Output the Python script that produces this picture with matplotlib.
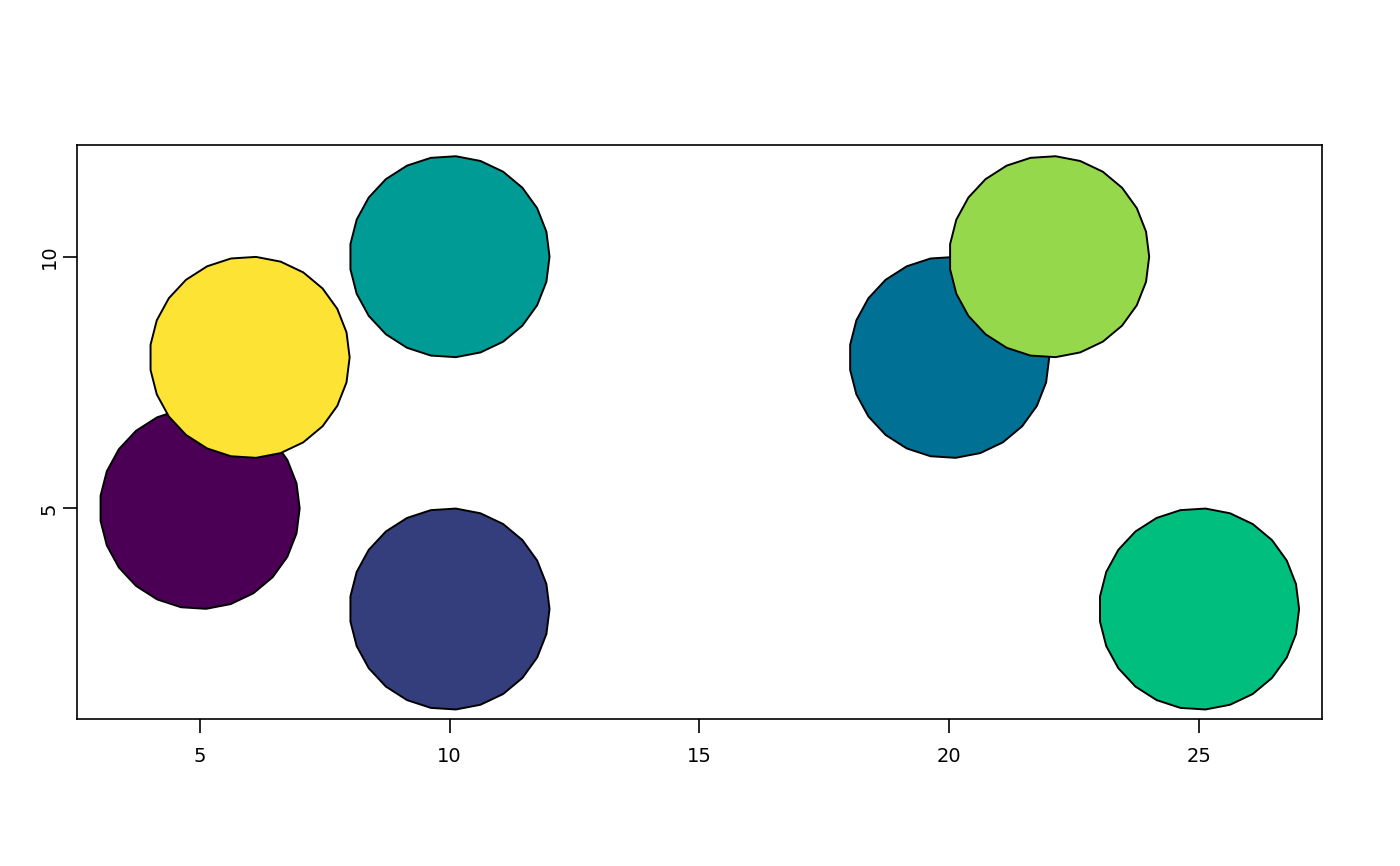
import numpy as np
import matplotlib.pyplot as plt
from matplotlib.patches import Polygon

# circle centres, radius and fill colours (hcl viridis)
xs = [5, 10, 20, 10, 25, 22, 6]
ys = [5, 3, 8, 10, 3, 10, 8]
radius = [2, 2, 2, 2, 2, 2, 2]
colors = ["#4B0055", "#353E7C", "#007094", "#009B95", "#00BE7D", "#96D84B", "#FDE333"]
x_ticks = [5, 10, 15, 20, 25]
y_ticks = [5, 10]

n_vert = 25

fig = plt.figure(figsize=(14, 8.66), dpi=100)
ax = fig.add_axes([0.055, 0.1697, 0.889, 0.6629])

ang = np.arange(n_vert) * 2 * np.pi / n_vert
for x, y, r, c in zip(xs, ys, radius, colors):
    pts = np.column_stack([x + r * np.cos(ang), y + r * np.sin(ang)])
    ax.add_patch(Polygon(pts, closed=True, facecolor=c, edgecolor="black", linewidth=1.4))

ax.set_xlim(2.544, 27.45)
ax.set_ylim(0.814, 12.22)
ax.set_xticks(x_ticks)
ax.set_yticks(y_ticks)
ax.set_yticklabels([str(v) for v in y_ticks], rotation=90, va="center")
ax.tick_params(direction="out", length=10, width=1.2, labelsize=14, pad=10)
ax.tick_params(axis="y", pad=3)
for s in ax.spines.values():
    s.set_linewidth(1.2)

fig.savefig("out.png", dpi=100)
